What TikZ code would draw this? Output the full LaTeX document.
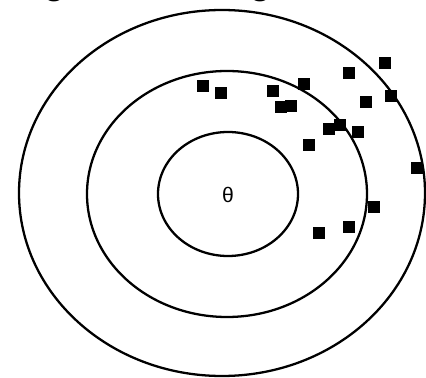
\documentclass[tikz,border=0pt]{standalone}
\usepackage{fontspec}
\setmainfont{Liberation Sans}
\begin{document}
\begin{tikzpicture}[x=0.02cm, y=-0.02cm, line width=1.3pt,
  every node/.style={font=\fontsize{12pt}{13pt}\selectfont},
  shot/.style={fill=black,inner sep=0pt,minimum size=0.24cm}]
\useasboundingbox (0,0) rectangle (426,378);
\clip (0,0) rectangle (426,378);
\node[anchor=base west,inner sep=0pt,font=\fontsize{23pt}{24pt}\selectfont] (title) at (4,-6) {High Bias / High Variance};
\draw (222,193) ellipse [x radius=203, y radius=183];
\draw (227,194) ellipse [x radius=140, y radius=123];
\draw (228,194) ellipse [x radius=70, y radius=62];
\node (theta) at (228,195) {θ};
\node[shot] (d1) at (203,86) {};  \node[shot] (d2) at (221,93) {};
\node[shot] (d3) at (273,91) {};  \node[shot] (d4) at (281,107) {};
\node[shot] (d5) at (291,106) {}; \node[shot] (d6) at (304,84) {};
\node[shot] (d7) at (349,73) {};  \node[shot] (d8) at (385,63) {};
\node[shot] (d9) at (366,102) {}; \node[shot] (d10) at (391,96) {};
\node[shot] (d11) at (329,129) {};\node[shot] (d12) at (340,125) {};
\node[shot] (d13) at (358,132) {};\node[shot] (d14) at (309,145) {};
\node[shot] (d15) at (417,168) {};\node[shot] (d16) at (374,207) {};
\node[shot] (d17) at (349,227) {};\node[shot] (d18) at (319,233) {};
\end{tikzpicture}
\end{document}
